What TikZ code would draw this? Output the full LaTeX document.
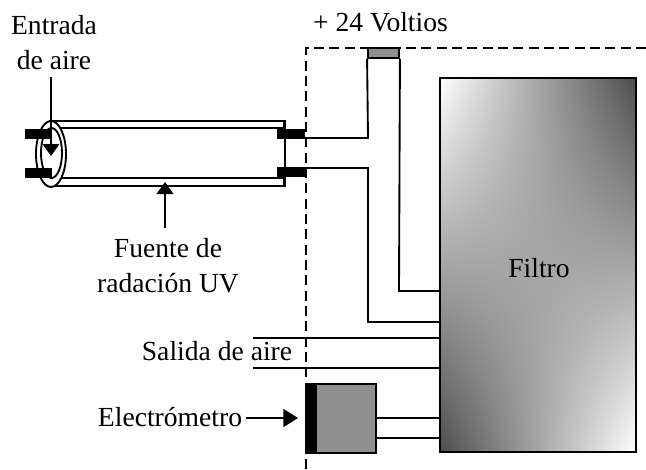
\documentclass[tikz,border=0pt]{standalone}
\usepackage{fontspec}
\setmainfont{Liberation Serif}
\usetikzlibrary{arrows.meta,shadings}
\pgfdeclarefunctionalshading{saddle}{\pgfpointorigin}{\pgfpoint{100bp}{100bp}}{}{
  50 exch sub exch 50 exch sub mul -0.00056 mul 0.65 add dup dup
}
\tikzset{
  wire/.style={line width=1.4pt,black},
  boundary/.style={line width=1.3pt,black,dash pattern=on 7.5pt off 4pt},
  label text/.style={font=\fontsize{20.7}{26.25}\selectfont,inner sep=0pt,align=center},
  single text/.style={font=\fontsize{20.7}{26.25}\selectfont,inner sep=0pt,anchor=base},
  plug/.style={fill=black,draw=none,inner sep=0pt,minimum width=21pt,minimum height=7.5pt},
  pointer/.style={wire,-{Triangle[length=9pt,width=12.5pt]}},
  big pointer/.style={wire,-{Triangle[length=11pt,width=13.5pt]}},
  filterbox/.style={draw=black,line width=1.4pt,shading=saddle,inner sep=0pt,minimum width=147pt,minimum height=280.5pt},
  graybox/.style={draw=black,line width=1.4pt,fill=gray!88!white,inner sep=0pt}
}
\begin{document}
\begin{tikzpicture}[x=0.75pt,y=-0.75pt]
\useasboundingbox (0,0) rectangle (646,469);
% boundary
\coordinate (bcorner) at (306,48);
\coordinate (bright) at (646,48);
\coordinate (bbottom) at (306,469);
\draw[boundary] (bright) -- (bcorner) -- (bbottom);
% filter
\node[filterbox] (filter) at (538,265) {};
\node[single text] (filtertext) at (539,277) {Filtro};
% tube
\node[draw=black,line width=1.4pt,inner sep=0pt,minimum width=175.5pt,minimum height=48.75pt] (tube) at (167,153.5) {};
\node[draw=black,line width=1.4pt,fill=white,inner sep=0pt,minimum width=175.5pt,minimum height=37.5pt] (tubein) at (167,153) {};
\node[draw=none,fill=white,inner sep=0pt,minimum width=3pt,minimum height=36pt] (tubegap) at (284,153) {};
\draw[wire] (tube.north east) -- (tube.south east);
% ellipses
\draw[wire,fill=white] (51,154) ellipse [x radius=15,y radius=33];
\draw[wire] (51.5,153) ellipse [x radius=10.5,y radius=25];
\node[plug,minimum width=20.25pt] (pl1) at (38.5,134) {};
\node[plug,minimum width=20.25pt] (pl2) at (38.5,173) {};
\node[plug] (pr1) at (291,134) {};
\node[plug] (pr2) at (291,172) {};
% inlet arrow
\coordinate (inlet) at (51,77);
\coordinate (inlettip) at (51,156);
\draw[pointer] (inlet) -- (inlettip);
% UV pointer
\coordinate (uvfrom) at (165,228);
\coordinate (uvtip) at (165,182);
\draw[pointer] (uvfrom) -- (uvtip);
% top box
\node[graybox,minimum width=23.25pt,minimum height=7.5pt] (vbox) at (383.5,53) {};
% wires
\coordinate (w1) at (368,138);
\coordinate (w2) at (368,168);
\coordinate (w3) at (368,322);
\coordinate (w4) at (399,291);
\draw[wire] (pr1.east |- w1) -- (w1) -- (vbox.south west);
\draw[wire] (vbox.south east) -- (w4) -- (filter.west |- w4);
\draw[wire] (pr2.east |- w2) -- (w2) -- (w3) -- (filter.west |- w3);
% salida
\coordinate (s1) at (253,338);
\coordinate (s2) at (253,368);
\draw[wire] (s1) -- (filter.west |- s1);
\draw[wire] (s2) -- (filter.west |- s2);
% electrometer
\node[graybox,minimum width=52.5pt,minimum height=51.75pt] (elec) at (341,418.5) {};
\node[fill=black,inner sep=0pt,minimum width=8.25pt,minimum height=51.75pt] (elecbar) at (311.5,418.5) {};
\coordinate (e1) at (376,418);
\coordinate (e2) at (376,438);
\draw[wire] (e1) -- (filter.west |- e1);
\draw[wire] (e2) -- (filter.west |- e2);
\coordinate (efrom) at (246,418);
\coordinate (etip) at (298,418);
\draw[big pointer] (efrom) -- (etip);
% labels
\node[single text] (t1) at (380.5,31) {+ 24 Voltios};
\node[label text] (t2) at (54,42.5) {Entrada\\de aire};
\node[label text] (t3) at (168,266) {Fuente de\\radación UV};
\node[single text] (t4) at (217,360) {Salida de aire};
\node[single text] (t5) at (170,426) {Electrómetro};
\end{tikzpicture}
\end{document}
